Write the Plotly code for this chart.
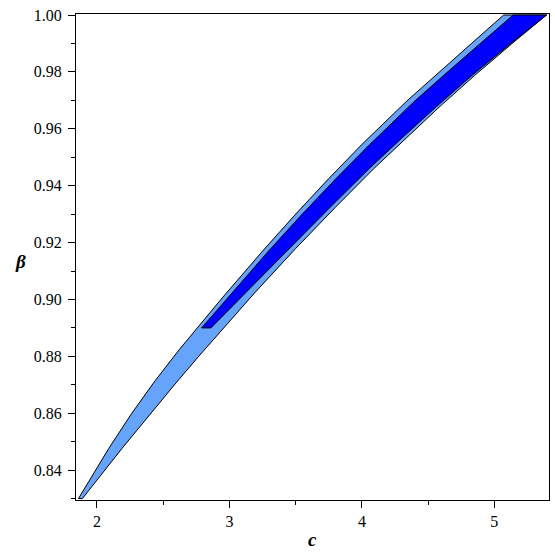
import plotly.graph_objects as go

# Light-blue region boundaries (c, beta)
light_upper_c = [1.86, 1.94, 2.09, 2.26, 2.44, 2.62, 2.78, 2.95, 3.25, 3.50, 3.75, 4.00, 4.34, 4.59, 4.83, 5.07]
light_upper_b = [0.830, 0.8363, 0.8477, 0.8598, 0.8715, 0.8823, 0.8914, 0.9008, 0.917, 0.930, 0.9425, 0.9545, 0.9698, 0.9803, 0.9901, 1.000]
light_lower_c = [5.394, 5.15, 4.85, 4.59, 4.34, 4.09, 3.80, 3.50, 3.19, 3.04, 2.89, 2.77, 2.59, 2.39, 2.19, 2.00, 1.89]
light_lower_b = [1.000, 0.9906, 0.9787, 0.9679, 0.9571, 0.946, 0.9324, 0.9179, 0.9023, 0.8945, 0.8866, 0.8801, 0.8703, 0.8591, 0.8477, 0.8365, 0.830]

# Dark-blue region boundaries (c, beta)
dark_upper_c = [2.79, 2.99, 3.295, 3.55, 3.805, 4.06, 4.40, 4.655, 4.897, 5.142]
dark_upper_b = [0.890, 0.9008, 0.917, 0.930, 0.9425, 0.9545, 0.9698, 0.9803, 0.9901, 1.000]
dark_lower_c = [5.394, 5.14, 4.83, 4.565, 4.31, 4.055, 3.76, 3.45, 3.12, 2.86]
dark_lower_b = [1.000, 0.9906, 0.9787, 0.9679, 0.9571, 0.946, 0.9324, 0.9179, 0.9023, 0.890]

x_ticks = [2, 3, 4, 5]
y_ticks = [0.84, 0.86, 0.88, 0.90, 0.92, 0.94, 0.96, 0.98, 1.00]

light_c = light_upper_c + light_lower_c + [light_upper_c[0]]
light_b = light_upper_b + light_lower_b + [light_upper_b[0]]
dark_c = dark_upper_c + dark_lower_c + [dark_upper_c[0]]
dark_b = dark_upper_b + dark_lower_b + [dark_upper_b[0]]

fig = go.Figure()
fig.add_trace(go.Scatter(x=light_c, y=light_b, mode="lines", fill="toself",
                         fillcolor="#66a3fa", line=dict(color="black", width=1),
                         hoverinfo="skip", showlegend=False))
fig.add_trace(go.Scatter(x=dark_c, y=dark_b, mode="lines", fill="toself",
                         fillcolor="#0000ff", line=dict(color="black", width=1),
                         hoverinfo="skip", showlegend=False))

font_family = "Liberation Serif"
axis_common = dict(showline=True, linecolor="black", linewidth=1, mirror=True,
                   ticks="outside", ticklen=7, tickcolor="black", tickwidth=1,
                   showgrid=False, zeroline=False,
                   tickfont=dict(family=font_family, size=16, color="black"))

fig.update_xaxes(range=[1.8416, 5.4125], tickmode="array", tickvals=x_ticks,
                 ticktext=[str(v) for v in x_ticks],
                 minor=dict(dtick=0.5, tick0=2, ticks="outside", ticklen=4, tickcolor="black"),
                 **axis_common)
fig.update_yaxes(range=[0.8295, 1.00035], tickmode="array", tickvals=y_ticks,
                 ticktext=[f"{v:.2f}" for v in y_ticks], ticklabelstandoff=3,
                 minor=dict(dtick=0.01, tick0=0.83, ticks="outside", ticklen=4, tickcolor="black"),
                 **axis_common)

fig.update_layout(
    width=555, height=555,
    margin=dict(l=76, r=6, t=14, b=55),
    font=dict(family=font_family, size=16, color="black"),
    paper_bgcolor="white", plot_bgcolor="white",
    annotations=[
        dict(text="<b><i>β</i></b>", x=-0.118, y=0.490, xref="paper", yref="paper",
             xanchor="center", yanchor="middle",
             showarrow=False, font=dict(family=font_family, size=19, color="black")),
        dict(text="<b><i>c</i></b>", x=0.501, y=-0.082, xref="paper", yref="paper",
             xanchor="center", yanchor="middle",
             showarrow=False, font=dict(family=font_family, size=19, color="black")),
    ],
)

fig.write_html("out.html", config={"displayModeBar": False},
               post_script="document.body.style.margin='0';")
